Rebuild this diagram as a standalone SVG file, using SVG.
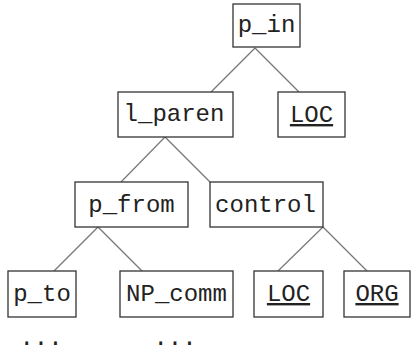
<svg xmlns="http://www.w3.org/2000/svg" width="411" height="351" viewBox="0 0 411 351">
<style>
.box{fill:#fff;stroke:#333;stroke-width:1.3}
.lbl{font-family:"Liberation Mono","Courier New",monospace;font-size:24px;fill:#222;text-anchor:middle}
.u{text-decoration:underline}
.edge{stroke:#777;stroke-width:1.2;fill:none}
</style>
<rect width="411" height="351" fill="#fff"/>
<g id="connectors">
<line class="edge" x1="255" y1="48" x2="211" y2="92"/>
<line class="edge" x1="255" y1="48" x2="299" y2="92"/>
<line class="edge" x1="165" y1="137" x2="121" y2="182"/>
<line class="edge" x1="165" y1="137" x2="210" y2="182"/>
<line class="edge" x1="98" y1="227" x2="54" y2="271"/>
<line class="edge" x1="98" y1="227" x2="142" y2="271"/>
<line class="edge" x1="323" y1="227" x2="278" y2="271"/>
<line class="edge" x1="323" y1="227" x2="367" y2="271"/>
</g>
<g id="p_in"><rect class="box" x="233" y="4" width="67" height="43"/><text class="lbl" x="266.5" y="32">p_in</text></g>
<g id="l_paren"><rect class="box" x="118" y="92" width="115" height="45"/><text class="lbl" x="174" y="121">l_paren</text></g>
<g id="loc1"><rect class="box" x="278" y="92" width="67" height="45"/><text class="lbl u" x="311.5" y="122">LOC</text></g>
<g id="p_from"><rect class="box" x="75" y="182" width="113" height="45"/><text class="lbl" x="131.5" y="212">p_from</text></g>
<g id="control"><rect class="box" x="210" y="182" width="113" height="45"/><text class="lbl" x="265.5" y="212">control</text></g>
<g id="p_to"><rect class="box" x="8" y="271" width="68" height="46"/><text class="lbl" x="42" y="301">p_to</text></g>
<g id="np_comm"><rect class="box" x="120" y="271" width="113" height="46"/><text class="lbl" x="176.5" y="301">NP_comm</text></g>
<g id="loc2"><rect class="box" x="254" y="271" width="69" height="46"/><text class="lbl u" x="288.5" y="301">LOC</text></g>
<g id="org"><rect class="box" x="344" y="271" width="66" height="46"/><text class="lbl u" x="377" y="301">ORG</text></g>
<g id="dots"><text class="lbl" x="41" y="345">...</text><text class="lbl" x="175" y="345">...</text></g>
</svg>
